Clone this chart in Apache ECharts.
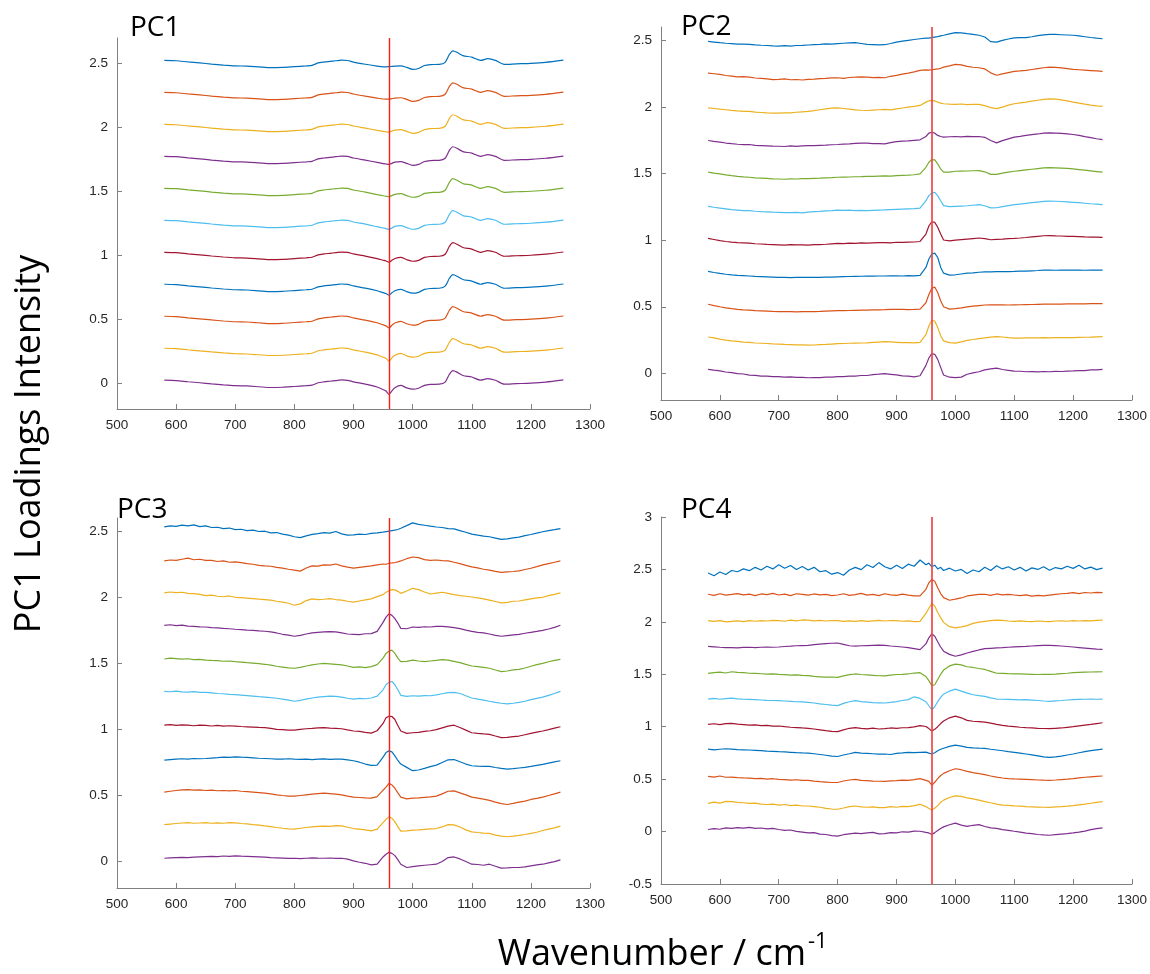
<!DOCTYPE html>
<html><head><meta charset="utf-8">
<script src="https://cdn.jsdelivr.net/npm/echarts@6/dist/echarts.min.js"></script>
<style>html,body{margin:0;padding:0;background:#fff}#c{width:1150px;height:974px}</style>
</head><body><div id="c"></div>
<script>
// wavenumbers (cm-1)
const WN1 = [580,600,620,640,660,680,700,720,740,760,780,800,820,830,840,850,860,870,880,890,900,920,940,950,955,960,965,970,980,990,1000,1010,1020,1030,1045,1055,1062,1068,1075,1085,1100,1115,1127,1140,1155,1175,1200,1225,1255];
const WN = [580,590,600,610,620,630,640,650,660,670,680,690,700,710,720,730,740,750,760,770,780,790,800,810,820,830,840,850,860,870,880,890,900,910,920,930,940,950,955,960,965,970,975,980,990,1000,1010,1020,1030,1040,1050,1060,1070,1080,1090,1100,1110,1120,1130,1140,1150,1160,1170,1180,1190,1200,1210,1220,1230,1240,1250];
const MARK_WN = 960;
const PANEL_NAMES = ['PC1','PC2','PC3','PC4'];
const Y_TICKS_123 = [0,0.5,1,1.5,2,2.5];
const Y_RANGES = [[-0.2,2.7],[-0.2,2.6],[-0.2,2.6],[-0.5,3]];

// ---- PC1 ----
const PC1_1 = [2.525,2.522,2.513,2.505,2.496,2.488,2.482,2.480,2.474,2.468,2.470,2.476,2.482,2.486,2.505,2.512,2.517,2.522,2.527,2.524,2.512,2.495,2.480,2.475,2.475,2.476,2.478,2.480,2.482,2.470,2.455,2.462,2.485,2.492,2.494,2.510,2.570,2.600,2.588,2.562,2.550,2.525,2.538,2.525,2.494,2.498,2.502,2.510,2.527];
const PC1_2 = [2.275,2.272,2.263,2.255,2.246,2.238,2.232,2.230,2.224,2.218,2.220,2.226,2.232,2.236,2.255,2.262,2.267,2.272,2.277,2.274,2.262,2.245,2.230,2.223,2.222,2.222,2.226,2.230,2.233,2.220,2.205,2.212,2.235,2.242,2.244,2.260,2.320,2.350,2.338,2.312,2.300,2.275,2.288,2.275,2.244,2.248,2.252,2.260,2.277];
const PC1_3 = [2.025,2.022,2.013,2.005,1.996,1.988,1.982,1.980,1.974,1.968,1.970,1.976,1.982,1.986,2.005,2.012,2.017,2.022,2.027,2.024,2.012,1.995,1.978,1.970,1.967,1.965,1.972,1.980,1.984,1.970,1.955,1.962,1.985,1.992,1.994,2.010,2.070,2.100,2.088,2.062,2.050,2.025,2.038,2.025,1.994,1.998,2.002,2.010,2.027];
const PC1_4 = [1.775,1.772,1.763,1.755,1.746,1.738,1.732,1.730,1.724,1.718,1.720,1.726,1.732,1.736,1.755,1.762,1.767,1.772,1.777,1.774,1.762,1.745,1.728,1.718,1.715,1.712,1.720,1.730,1.734,1.720,1.705,1.712,1.735,1.742,1.744,1.760,1.820,1.850,1.838,1.812,1.800,1.775,1.788,1.775,1.744,1.748,1.752,1.760,1.777];
const PC1_5 = [1.525,1.522,1.513,1.505,1.496,1.488,1.482,1.480,1.474,1.468,1.470,1.476,1.482,1.486,1.505,1.512,1.517,1.522,1.527,1.524,1.512,1.495,1.476,1.467,1.463,1.460,1.468,1.478,1.484,1.468,1.455,1.462,1.485,1.492,1.494,1.510,1.570,1.600,1.588,1.562,1.550,1.525,1.538,1.525,1.494,1.498,1.502,1.510,1.527];
const PC1_6 = [1.275,1.272,1.263,1.255,1.246,1.238,1.232,1.230,1.224,1.218,1.220,1.226,1.232,1.236,1.255,1.262,1.267,1.272,1.277,1.274,1.262,1.245,1.225,1.215,1.210,1.204,1.215,1.228,1.234,1.218,1.205,1.212,1.235,1.242,1.244,1.260,1.320,1.350,1.338,1.312,1.300,1.275,1.288,1.275,1.244,1.248,1.252,1.260,1.277];
const PC1_7 = [1.025,1.022,1.013,1.005,0.996,0.988,0.982,0.980,0.974,0.968,0.970,0.976,0.982,0.986,1.005,1.012,1.017,1.022,1.027,1.024,1.012,0.995,0.975,0.963,0.957,0.948,0.962,0.976,0.985,0.967,0.955,0.962,0.985,0.992,0.994,1.010,1.070,1.100,1.088,1.062,1.050,1.025,1.038,1.025,0.994,0.998,1.002,1.010,1.027];
const PC1_8 = [0.775,0.772,0.763,0.755,0.746,0.738,0.732,0.730,0.724,0.718,0.720,0.726,0.732,0.736,0.755,0.762,0.767,0.772,0.777,0.774,0.762,0.745,0.724,0.710,0.703,0.690,0.708,0.724,0.735,0.717,0.705,0.712,0.735,0.742,0.744,0.760,0.820,0.850,0.838,0.812,0.800,0.775,0.788,0.775,0.744,0.748,0.752,0.760,0.777];
const PC1_9 = [0.525,0.522,0.513,0.505,0.496,0.488,0.482,0.480,0.474,0.468,0.470,0.476,0.482,0.486,0.505,0.512,0.517,0.522,0.527,0.524,0.512,0.495,0.474,0.458,0.450,0.434,0.454,0.472,0.485,0.466,0.455,0.462,0.485,0.492,0.494,0.510,0.570,0.600,0.588,0.562,0.550,0.525,0.538,0.525,0.494,0.498,0.502,0.510,0.527];
const PC1_10 = [0.275,0.272,0.263,0.255,0.246,0.238,0.232,0.230,0.224,0.218,0.220,0.226,0.232,0.236,0.255,0.262,0.267,0.272,0.277,0.274,0.262,0.245,0.223,0.205,0.195,0.175,0.200,0.220,0.235,0.215,0.205,0.212,0.235,0.242,0.244,0.260,0.320,0.350,0.338,0.312,0.300,0.275,0.288,0.275,0.244,0.248,0.252,0.260,0.277];
const PC1_11 = [0.025,0.022,0.013,0.005,-0.004,-0.012,-0.018,-0.020,-0.026,-0.032,-0.030,-0.024,-0.018,-0.014,0.005,0.012,0.017,0.022,0.027,0.024,0.012,-0.005,-0.028,-0.048,-0.060,-0.085,-0.058,-0.034,-0.016,-0.035,-0.045,-0.038,-0.015,-0.008,-0.006,0.010,0.070,0.100,0.088,0.062,0.050,0.025,0.038,0.025,-0.006,-0.002,0.002,0.010,0.027];

// ---- PC2 ----
const PC2_1 = [2.492,2.487,2.482,2.478,2.475,2.471,2.472,2.470,2.466,2.463,2.461,2.458,2.457,2.460,2.456,2.461,2.462,2.465,2.468,2.470,2.473,2.471,2.475,2.478,2.481,2.482,2.476,2.470,2.468,2.466,2.467,2.476,2.487,2.494,2.500,2.506,2.512,2.516,2.517,2.520,2.524,2.528,2.533,2.538,2.549,2.558,2.556,2.550,2.545,2.538,2.525,2.490,2.486,2.500,2.510,2.518,2.520,2.520,2.527,2.535,2.541,2.545,2.544,2.542,2.540,2.538,2.533,2.527,2.521,2.516,2.512];
const PC2_2 = [2.254,2.249,2.244,2.236,2.231,2.226,2.228,2.224,2.217,2.214,2.211,2.205,2.207,2.210,2.204,2.206,2.202,2.207,2.209,2.213,2.215,2.218,2.219,2.215,2.221,2.223,2.226,2.224,2.220,2.222,2.219,2.230,2.237,2.246,2.254,2.263,2.274,2.278,2.276,2.279,2.282,2.285,2.290,2.299,2.308,2.319,2.316,2.304,2.298,2.294,2.285,2.256,2.238,2.248,2.258,2.267,2.270,2.274,2.281,2.288,2.294,2.299,2.297,2.293,2.288,2.282,2.279,2.276,2.273,2.270,2.267];
const PC2_3 = [1.993,1.988,1.983,1.979,1.974,1.970,1.967,1.966,1.961,1.958,1.955,1.954,1.953,1.956,1.955,1.960,1.963,1.966,1.972,1.979,1.985,1.991,1.993,1.988,1.983,1.978,1.975,1.973,1.976,1.979,1.981,1.978,1.986,1.992,1.998,2.004,2.011,2.036,2.046,2.049,2.045,2.036,2.028,2.024,2.021,2.019,2.022,2.018,2.020,2.019,2.010,1.995,1.987,1.999,2.013,2.024,2.030,2.036,2.043,2.050,2.057,2.061,2.058,2.053,2.045,2.036,2.029,2.021,2.014,2.008,2.004];
const PC2_4 = [1.748,1.741,1.736,1.729,1.724,1.720,1.717,1.718,1.712,1.710,1.708,1.706,1.705,1.703,1.707,1.704,1.708,1.709,1.710,1.712,1.713,1.716,1.718,1.721,1.723,1.726,1.729,1.728,1.725,1.724,1.723,1.732,1.740,1.744,1.745,1.749,1.753,1.778,1.803,1.810,1.803,1.786,1.778,1.773,1.776,1.778,1.775,1.779,1.777,1.778,1.772,1.748,1.730,1.747,1.760,1.773,1.779,1.786,1.792,1.797,1.803,1.805,1.804,1.801,1.797,1.793,1.786,1.777,1.769,1.761,1.755];
const PC2_5 = [1.510,1.503,1.497,1.490,1.484,1.479,1.475,1.472,1.468,1.466,1.463,1.460,1.459,1.457,1.460,1.459,1.462,1.462,1.464,1.465,1.467,1.469,1.472,1.473,1.474,1.476,1.477,1.479,1.479,1.481,1.482,1.481,1.484,1.486,1.488,1.491,1.497,1.547,1.585,1.605,1.602,1.572,1.535,1.511,1.510,1.517,1.518,1.519,1.521,1.522,1.513,1.494,1.494,1.503,1.510,1.517,1.522,1.527,1.532,1.537,1.542,1.544,1.543,1.541,1.538,1.535,1.530,1.525,1.520,1.515,1.510];
const PC2_6 = [1.254,1.247,1.241,1.235,1.229,1.226,1.222,1.221,1.217,1.214,1.212,1.210,1.209,1.207,1.206,1.208,1.205,1.210,1.214,1.216,1.219,1.222,1.226,1.224,1.225,1.222,1.223,1.221,1.224,1.226,1.227,1.229,1.231,1.233,1.235,1.237,1.241,1.296,1.334,1.354,1.359,1.334,1.296,1.259,1.251,1.254,1.256,1.258,1.262,1.266,1.258,1.242,1.243,1.252,1.259,1.266,1.271,1.276,1.281,1.286,1.291,1.293,1.292,1.290,1.287,1.284,1.281,1.277,1.273,1.270,1.266];
const PC2_7 = [1.013,1.005,0.996,0.990,0.985,0.981,0.979,0.977,0.973,0.971,0.968,0.967,0.965,0.963,0.966,0.964,0.965,0.962,0.966,0.967,0.969,0.972,0.975,0.974,0.977,0.976,0.979,0.977,0.980,0.981,0.982,0.980,0.984,0.983,0.985,0.986,0.990,1.046,1.106,1.138,1.133,1.097,1.046,1.001,0.994,1.000,1.004,1.008,1.012,1.016,1.012,1.003,1.006,1.008,1.011,1.013,1.016,1.020,1.025,1.029,1.033,1.034,1.032,1.031,1.029,1.028,1.026,1.024,1.023,1.022,1.021];
const PC2_8 = [0.765,0.757,0.750,0.744,0.739,0.735,0.733,0.731,0.728,0.726,0.724,0.722,0.720,0.721,0.719,0.720,0.720,0.721,0.720,0.721,0.722,0.723,0.725,0.726,0.727,0.728,0.729,0.730,0.730,0.731,0.731,0.732,0.732,0.731,0.733,0.732,0.735,0.795,0.858,0.895,0.903,0.870,0.797,0.752,0.737,0.740,0.746,0.752,0.755,0.759,0.762,0.762,0.763,0.764,0.764,0.765,0.767,0.768,0.770,0.772,0.775,0.775,0.774,0.775,0.775,0.776,0.775,0.774,0.775,0.775,0.775];
const PC2_9 = [0.519,0.509,0.500,0.492,0.486,0.481,0.477,0.474,0.471,0.469,0.467,0.465,0.464,0.463,0.463,0.462,0.464,0.463,0.464,0.465,0.467,0.469,0.471,0.471,0.472,0.473,0.474,0.474,0.476,0.477,0.478,0.480,0.481,0.480,0.479,0.480,0.482,0.530,0.592,0.638,0.648,0.607,0.545,0.500,0.482,0.486,0.492,0.499,0.504,0.509,0.513,0.514,0.515,0.514,0.513,0.514,0.515,0.516,0.517,0.518,0.519,0.519,0.520,0.520,0.521,0.521,0.522,0.522,0.523,0.523,0.524];
const PC2_10 = [0.273,0.266,0.257,0.250,0.244,0.240,0.235,0.232,0.228,0.226,0.224,0.221,0.219,0.217,0.216,0.214,0.214,0.212,0.213,0.215,0.217,0.220,0.223,0.224,0.226,0.227,0.228,0.229,0.232,0.235,0.238,0.236,0.233,0.230,0.230,0.229,0.232,0.290,0.355,0.398,0.393,0.345,0.282,0.244,0.231,0.227,0.236,0.248,0.254,0.261,0.266,0.272,0.276,0.273,0.268,0.264,0.265,0.266,0.267,0.266,0.268,0.267,0.268,0.269,0.268,0.268,0.270,0.271,0.272,0.274,0.276];
const PC2_11 = [0.030,0.024,0.019,0.010,0.006,-0.002,-0.005,-0.013,-0.015,-0.021,-0.021,-0.025,-0.024,-0.028,-0.027,-0.030,-0.030,-0.033,-0.032,-0.032,-0.029,-0.028,-0.024,-0.025,-0.021,-0.021,-0.016,-0.016,-0.009,-0.006,-0.002,-0.007,-0.012,-0.019,-0.021,-0.026,-0.018,0.060,0.115,0.148,0.143,0.105,0.045,-0.012,-0.029,-0.032,-0.028,-0.007,0.004,0.012,0.026,0.034,0.039,0.029,0.023,0.017,0.016,0.012,0.013,0.011,0.014,0.012,0.015,0.014,0.017,0.018,0.021,0.021,0.026,0.026,0.030];

// ---- PC3 ----
const PC3_1 = [2.533,2.540,2.537,2.546,2.541,2.548,2.535,2.540,2.528,2.530,2.520,2.524,2.512,2.515,2.505,2.508,2.498,2.500,2.488,2.490,2.478,2.470,2.458,2.452,2.465,2.476,2.482,2.490,2.485,2.498,2.480,2.470,2.472,2.478,2.475,2.484,2.488,2.493,2.497,2.500,2.505,2.508,2.513,2.522,2.542,2.563,2.552,2.545,2.538,2.532,2.528,2.520,2.518,2.505,2.492,2.478,2.470,2.463,2.458,2.448,2.438,2.442,2.450,2.455,2.466,2.475,2.485,2.496,2.505,2.512,2.520];
const PC3_2 = [2.275,2.282,2.280,2.288,2.296,2.284,2.288,2.280,2.279,2.271,2.276,2.265,2.268,2.262,2.255,2.250,2.242,2.238,2.235,2.226,2.220,2.212,2.205,2.198,2.222,2.238,2.236,2.245,2.243,2.252,2.238,2.228,2.220,2.226,2.232,2.238,2.245,2.252,2.250,2.258,2.260,2.263,2.268,2.275,2.292,2.305,2.300,2.285,2.280,2.282,2.278,2.275,2.265,2.255,2.242,2.230,2.222,2.212,2.205,2.196,2.188,2.192,2.195,2.200,2.210,2.220,2.232,2.245,2.255,2.265,2.275];
const PC3_3 = [2.033,2.040,2.035,2.038,2.030,2.028,2.022,2.013,2.016,2.008,2.004,2.010,2.000,1.998,1.994,1.990,1.986,1.983,1.978,1.970,1.963,1.955,1.940,1.950,1.975,1.988,1.982,1.985,1.990,1.983,1.978,1.970,1.963,1.972,1.980,1.988,2.005,2.020,2.038,2.050,2.058,2.056,2.045,2.030,2.048,2.068,2.058,2.040,2.025,2.032,2.038,2.030,2.020,2.013,2.008,2.002,1.995,1.988,1.978,1.968,1.958,1.962,1.970,1.972,1.980,1.988,1.995,2.000,2.012,2.022,2.033];
const PC3_4 = [1.788,1.792,1.785,1.790,1.782,1.780,1.776,1.775,1.770,1.768,1.764,1.762,1.758,1.756,1.752,1.750,1.746,1.743,1.738,1.730,1.720,1.714,1.705,1.712,1.722,1.730,1.735,1.738,1.740,1.738,1.730,1.722,1.720,1.718,1.724,1.725,1.742,1.810,1.850,1.875,1.863,1.838,1.805,1.765,1.762,1.775,1.773,1.777,1.775,1.780,1.780,1.776,1.770,1.763,1.752,1.742,1.735,1.730,1.722,1.712,1.705,1.710,1.715,1.720,1.728,1.735,1.742,1.750,1.760,1.772,1.788];
const PC3_5 = [1.533,1.540,1.536,1.532,1.535,1.528,1.530,1.525,1.522,1.520,1.516,1.518,1.513,1.510,1.505,1.502,1.498,1.493,1.486,1.478,1.472,1.466,1.463,1.470,1.480,1.488,1.495,1.500,1.496,1.492,1.488,1.480,1.470,1.474,1.468,1.475,1.490,1.540,1.575,1.592,1.600,1.575,1.540,1.513,1.515,1.525,1.518,1.513,1.518,1.522,1.528,1.525,1.515,1.505,1.492,1.480,1.475,1.470,1.463,1.450,1.438,1.442,1.450,1.455,1.465,1.478,1.490,1.500,1.512,1.522,1.530];
const PC3_6 = [1.288,1.285,1.290,1.284,1.282,1.286,1.280,1.280,1.276,1.272,1.270,1.266,1.263,1.260,1.256,1.252,1.248,1.245,1.240,1.236,1.230,1.222,1.213,1.220,1.230,1.238,1.244,1.248,1.252,1.250,1.244,1.236,1.230,1.235,1.232,1.238,1.252,1.300,1.338,1.356,1.363,1.338,1.300,1.258,1.250,1.255,1.252,1.256,1.255,1.262,1.270,1.278,1.280,1.272,1.255,1.238,1.230,1.222,1.213,1.205,1.198,1.193,1.198,1.205,1.213,1.225,1.235,1.245,1.258,1.272,1.288];
const PC3_7 = [1.033,1.036,1.030,1.034,1.032,1.028,1.033,1.030,1.026,1.030,1.025,1.028,1.025,1.022,1.020,1.018,1.015,1.013,1.008,1.000,0.998,0.995,0.995,1.000,1.005,1.008,1.012,1.013,1.010,1.008,1.005,0.996,0.988,0.985,0.978,0.972,0.990,1.045,1.088,1.100,1.098,1.075,1.030,0.988,0.970,0.975,0.978,0.985,0.990,0.998,1.012,1.025,1.032,1.015,0.995,0.975,0.970,0.966,0.963,0.950,0.938,0.940,0.945,0.950,0.960,0.970,0.980,0.988,0.998,1.010,1.020];
const PC3_8 = [0.768,0.772,0.775,0.778,0.776,0.780,0.778,0.780,0.783,0.786,0.790,0.788,0.793,0.790,0.788,0.785,0.782,0.780,0.778,0.776,0.775,0.778,0.775,0.773,0.776,0.772,0.775,0.777,0.774,0.776,0.775,0.770,0.763,0.752,0.738,0.728,0.730,0.790,0.825,0.838,0.830,0.800,0.765,0.738,0.713,0.688,0.693,0.705,0.718,0.730,0.750,0.770,0.772,0.755,0.738,0.725,0.722,0.720,0.720,0.712,0.705,0.700,0.703,0.708,0.713,0.720,0.728,0.735,0.745,0.755,0.763];
const PC3_9 = [0.525,0.532,0.538,0.542,0.545,0.540,0.542,0.538,0.540,0.536,0.538,0.535,0.538,0.532,0.530,0.526,0.522,0.518,0.512,0.505,0.500,0.496,0.495,0.500,0.505,0.510,0.514,0.518,0.514,0.510,0.505,0.495,0.488,0.485,0.482,0.480,0.492,0.540,0.563,0.592,0.580,0.555,0.520,0.488,0.475,0.480,0.482,0.486,0.490,0.495,0.512,0.532,0.535,0.520,0.505,0.488,0.480,0.472,0.463,0.450,0.438,0.432,0.440,0.450,0.458,0.470,0.478,0.488,0.500,0.512,0.525];
const PC3_10 = [0.280,0.284,0.288,0.292,0.295,0.290,0.292,0.294,0.290,0.293,0.290,0.294,0.293,0.288,0.285,0.280,0.276,0.270,0.265,0.258,0.252,0.248,0.245,0.252,0.258,0.262,0.266,0.268,0.267,0.272,0.270,0.260,0.250,0.245,0.240,0.232,0.245,0.295,0.320,0.338,0.328,0.300,0.265,0.230,0.232,0.238,0.240,0.244,0.247,0.250,0.262,0.280,0.278,0.262,0.240,0.225,0.220,0.216,0.213,0.200,0.192,0.188,0.192,0.198,0.205,0.213,0.222,0.235,0.245,0.255,0.268];
const PC3_11 = [0.025,0.028,0.030,0.032,0.030,0.034,0.036,0.038,0.040,0.038,0.042,0.040,0.043,0.041,0.040,0.038,0.036,0.033,0.030,0.028,0.026,0.024,0.025,0.022,0.025,0.028,0.026,0.025,0.027,0.024,0.025,0.018,0.005,-0.005,-0.013,-0.025,-0.020,0.035,0.055,0.070,0.062,0.045,0.015,-0.020,-0.045,-0.038,-0.032,-0.028,-0.024,-0.020,0.000,0.030,0.035,0.020,0.000,-0.020,-0.022,-0.028,-0.020,-0.035,-0.050,-0.048,-0.045,-0.045,-0.040,-0.032,-0.025,-0.020,-0.010,0.000,0.013];

// ---- PC4 ----
const PC4_1 = [2.466,2.440,2.475,2.452,2.490,2.478,2.505,2.488,2.520,2.495,2.530,2.505,2.545,2.512,2.538,2.500,2.528,2.495,2.520,2.478,2.488,2.455,2.470,2.445,2.495,2.520,2.498,2.545,2.518,2.565,2.525,2.505,2.540,2.508,2.550,2.530,2.590,2.545,2.560,2.525,2.540,2.505,2.520,2.490,2.512,2.485,2.500,2.462,2.495,2.478,2.520,2.490,2.535,2.505,2.525,2.495,2.520,2.485,2.515,2.500,2.525,2.492,2.518,2.505,2.530,2.510,2.540,2.505,2.522,2.498,2.513];
const PC4_2 = [2.263,2.252,2.268,2.255,2.262,2.270,2.258,2.265,2.250,2.266,2.260,2.272,2.256,2.264,2.250,2.268,2.262,2.255,2.266,2.258,2.262,2.250,2.256,2.268,2.252,2.260,2.272,2.255,2.262,2.250,2.268,2.258,2.252,2.265,2.255,2.248,2.247,2.310,2.372,2.404,2.388,2.325,2.270,2.231,2.206,2.216,2.228,2.247,2.255,2.262,2.263,2.252,2.266,2.258,2.262,2.256,2.250,2.258,2.245,2.252,2.247,2.255,2.262,2.268,2.272,2.278,2.270,2.280,2.275,2.282,2.278];
const PC4_3 = [2.011,2.005,2.012,2.000,2.005,2.010,2.002,2.011,2.006,2.012,2.008,2.015,2.011,2.006,2.016,2.010,2.018,2.017,2.010,2.015,2.008,2.012,2.011,2.004,2.010,2.005,2.012,2.005,2.010,2.014,2.008,2.013,2.011,2.006,2.010,2.002,2.005,2.080,2.130,2.174,2.152,2.089,2.040,1.995,1.954,1.942,1.952,1.964,1.985,1.998,2.005,2.012,2.017,2.015,2.008,2.005,2.010,2.005,2.002,2.008,2.005,2.003,2.008,2.010,2.006,2.011,2.008,2.012,2.010,2.015,2.017];
const PC4_4 = [1.766,1.762,1.758,1.755,1.754,1.752,1.756,1.758,1.755,1.758,1.760,1.758,1.760,1.765,1.768,1.772,1.774,1.776,1.782,1.788,1.792,1.796,1.798,1.785,1.772,1.769,1.772,1.774,1.776,1.778,1.776,1.770,1.765,1.760,1.755,1.745,1.735,1.790,1.848,1.885,1.862,1.810,1.760,1.720,1.690,1.672,1.685,1.703,1.718,1.732,1.744,1.748,1.752,1.754,1.758,1.762,1.764,1.766,1.770,1.774,1.776,1.776,1.774,1.770,1.765,1.760,1.755,1.750,1.745,1.740,1.738];
const PC4_5 = [1.509,1.515,1.520,1.512,1.524,1.518,1.515,1.510,1.508,1.505,1.502,1.504,1.499,1.496,1.492,1.494,1.490,1.487,1.480,1.476,1.472,1.474,1.471,1.485,1.496,1.503,1.498,1.494,1.490,1.486,1.484,1.492,1.498,1.500,1.503,1.512,1.515,1.478,1.440,1.392,1.400,1.450,1.500,1.540,1.580,1.597,1.590,1.572,1.565,1.555,1.546,1.528,1.510,1.509,1.506,1.504,1.503,1.502,1.500,1.498,1.499,1.499,1.502,1.506,1.510,1.515,1.518,1.520,1.522,1.523,1.524];
const PC4_6 = [1.264,1.270,1.262,1.268,1.273,1.266,1.262,1.260,1.258,1.255,1.252,1.250,1.248,1.245,1.242,1.238,1.236,1.233,1.226,1.218,1.212,1.205,1.201,1.222,1.238,1.248,1.240,1.235,1.230,1.228,1.226,1.232,1.240,1.250,1.258,1.285,1.270,1.238,1.200,1.162,1.190,1.240,1.280,1.310,1.340,1.358,1.340,1.320,1.305,1.296,1.289,1.275,1.264,1.262,1.260,1.258,1.256,1.258,1.254,1.250,1.245,1.242,1.246,1.250,1.255,1.258,1.260,1.262,1.264,1.262,1.264];
const PC4_7 = [1.022,1.028,1.020,1.030,1.032,1.025,1.020,1.015,1.018,1.010,1.012,1.006,1.007,1.000,0.995,0.992,0.988,0.985,0.978,0.970,0.962,0.955,0.953,0.970,0.985,0.991,0.985,0.980,0.986,0.978,0.982,0.988,0.985,0.990,0.991,0.998,1.010,1.002,0.982,0.960,0.975,1.000,1.030,1.055,1.085,1.101,1.085,1.060,1.052,1.048,1.044,1.035,1.022,1.013,1.005,1.000,0.995,0.991,0.988,0.985,0.983,0.982,0.985,0.988,0.994,1.000,1.008,1.015,1.022,1.030,1.038];
const PC4_8 = [0.787,0.780,0.785,0.790,0.787,0.782,0.780,0.778,0.775,0.772,0.768,0.765,0.762,0.760,0.756,0.752,0.750,0.749,0.742,0.735,0.728,0.720,0.716,0.730,0.742,0.756,0.748,0.745,0.742,0.738,0.740,0.735,0.745,0.750,0.756,0.752,0.756,0.758,0.748,0.740,0.752,0.771,0.785,0.795,0.812,0.825,0.815,0.803,0.798,0.795,0.793,0.785,0.778,0.771,0.762,0.755,0.748,0.740,0.732,0.722,0.712,0.708,0.712,0.720,0.730,0.740,0.752,0.762,0.772,0.780,0.787];
const PC4_9 = [0.526,0.520,0.530,0.518,0.520,0.515,0.512,0.510,0.505,0.508,0.500,0.504,0.498,0.495,0.490,0.494,0.488,0.489,0.482,0.476,0.472,0.468,0.468,0.482,0.492,0.498,0.488,0.485,0.482,0.480,0.479,0.484,0.486,0.490,0.489,0.496,0.505,0.488,0.479,0.442,0.470,0.505,0.535,0.555,0.580,0.599,0.590,0.574,0.562,0.552,0.543,0.530,0.520,0.511,0.505,0.502,0.500,0.498,0.495,0.492,0.490,0.489,0.492,0.496,0.500,0.505,0.512,0.518,0.522,0.526,0.530];
const PC4_10 = [0.269,0.280,0.272,0.288,0.285,0.278,0.275,0.268,0.272,0.262,0.258,0.262,0.253,0.258,0.248,0.252,0.244,0.244,0.238,0.232,0.222,0.215,0.213,0.225,0.238,0.244,0.236,0.232,0.236,0.228,0.229,0.238,0.232,0.240,0.238,0.248,0.260,0.238,0.220,0.206,0.222,0.247,0.280,0.300,0.325,0.341,0.335,0.322,0.312,0.300,0.285,0.275,0.262,0.253,0.250,0.245,0.242,0.238,0.236,0.234,0.232,0.231,0.235,0.238,0.242,0.247,0.255,0.262,0.270,0.278,0.285];
const PC4_11 = [0.020,0.028,0.022,0.035,0.030,0.038,0.032,0.040,0.030,0.034,0.025,0.030,0.020,0.012,0.015,0.002,-0.005,-0.013,-0.010,-0.025,-0.028,-0.038,-0.044,-0.030,-0.022,-0.015,-0.020,-0.013,-0.008,-0.022,-0.019,-0.010,-0.013,-0.002,-0.006,0.005,0.003,-0.008,-0.013,-0.028,-0.010,0.010,0.030,0.045,0.065,0.080,0.062,0.050,0.060,0.066,0.048,0.035,0.030,0.018,0.012,0.003,-0.005,-0.015,-0.020,-0.028,-0.032,-0.035,-0.030,-0.025,-0.020,-0.013,-0.005,0.005,0.018,0.028,0.035];

const COLORS = ['#0072BD','#D95319','#EDB120','#7E2F8E','#77AC30','#4DBEEE','#A2142F','#0072BD','#D95319','#EDB120','#7E2F8E'];
const PANELS = [
  {xs: WN1, lines: [PC1_1,PC1_2,PC1_3,PC1_4,PC1_5,PC1_6,PC1_7,PC1_8,PC1_9,PC1_10,PC1_11]},
  {xs: WN,  lines: [PC2_1,PC2_2,PC2_3,PC2_4,PC2_5,PC2_6,PC2_7,PC2_8,PC2_9,PC2_10,PC2_11]},
  {xs: WN,  lines: [PC3_1,PC3_2,PC3_3,PC3_4,PC3_5,PC3_6,PC3_7,PC3_8,PC3_9,PC3_10,PC3_11]},
  {xs: WN,  lines: [PC4_1,PC4_2,PC4_3,PC4_4,PC4_5,PC4_6,PC4_7,PC4_8,PC4_9,PC4_10,PC4_11]}
];
PANELS.forEach((p,pi)=>p.lines.forEach((l,li)=>{ if(l.length!==p.xs.length) throw new Error('len mismatch panel '+(pi+1)+' line '+(li+1)+': '+l.length+' vs '+p.xs.length); }));

const GRIDS = [
  {left:117, top:38,  width:473, height:371},
  {left:661, top:27,  width:471, height:373},
  {left:117, top:518, width:473, height:370},
  {left:661, top:517, width:471, height:367}
];
const AX = '#808080';
const LABEL = {color:'#262626', fontFamily:'"Liberation Sans", Arial, sans-serif', fontSize:13.5, formatter: v => String(v)};

const xAxes = GRIDS.map((g,i)=>({
  type:'value', gridIndex:i, min:500, max:1300, interval:100,
  axisLine:{onZero:false, lineStyle:{color:AX, width:1}},
  axisTick:{inside:true, length:5, lineStyle:{color:AX}},
  axisLabel:Object.assign({margin:9}, LABEL),
  splitLine:{show:false}
}));
const yAxes = GRIDS.map((g,i)=>{
  const a = {
    type:'value', gridIndex:i, min:Y_RANGES[i][0], max:Y_RANGES[i][1],
    axisLine:{show:true, onZero:false, lineStyle:{color:AX, width:1}},
    axisTick:{show:true, inside:true, length:5, lineStyle:{color:AX}},
    axisLabel:Object.assign({margin:9}, LABEL),
    splitLine:{show:false}
  };
  if (i===3) { a.interval = 0.5; }
  else { a.axisTick.customValues = Y_TICKS_123; a.axisLabel.customValues = Y_TICKS_123; }
  return a;
});

const series = [];
PANELS.forEach((p,pi)=>{
  p.lines.forEach((ys,li)=>{
    const s = {
      type:'line', xAxisIndex:pi, yAxisIndex:pi, showSymbol:false, symbol:'none',
      data: p.xs.map((x,k)=>[x, ys[k]]),
      lineStyle:{color:COLORS[li], width: pi===0 ? 1.2 : 1.2},
      itemStyle:{color:COLORS[li]},
      smooth: pi===0 ? 0.25 : false,
      animation:false, silent:true, z:2
    };
    if (li===0) {
      const soft = (pi===1 || pi===3);
      s.markLine = {
        silent:true, symbol:['none','none'], animation:false,
        label:{show:false},
        lineStyle:{color: soft ? 'rgba(240,70,70,0.85)' : '#ff1a1a', width: soft ? 2 : 1.4, type:'solid'},
        data:[{xAxis: MARK_WN}]
      };
    }
    series.push(s);
  });
});

const TF = '"Open Sans", "Noto Sans", sans-serif';
const graphic = [
  {type:'text', x:130, y:28, style:{text:PANEL_NAMES[0], font:'28px '+TF, fill:'#000', align:'left', verticalAlign:'middle'}},
  {type:'text', x:681, y:27, style:{text:PANEL_NAMES[1], font:'28px '+TF, fill:'#000', align:'left', verticalAlign:'middle'}},
  {type:'text', x:117, y:510, style:{text:PANEL_NAMES[2], font:'28px '+TF, fill:'#000', align:'left', verticalAlign:'middle'}},
  {type:'text', x:681, y:510, style:{text:PANEL_NAMES[3], font:'28px '+TF, fill:'#000', align:'left', verticalAlign:'middle'}},
  {type:'text', x:30, y:444, rotation:Math.PI/2, style:{text:'PC1 Loadings Intensity', font:'36px '+TF, fill:'#000', align:'center', verticalAlign:'middle'}},
  {type:'text', x:806, y:955, style:{text:'Wavenumber / cm', font:'36px '+TF, fill:'#000', align:'right', verticalAlign:'middle'}},
  {type:'text', x:808, y:942, style:{text:'-1', font:'22px '+TF, fill:'#000', align:'left', verticalAlign:'middle'}}
];

const chart = echarts.init(document.getElementById('c'), null, {renderer:'canvas'});
chart.setOption({
  backgroundColor:'#fff',
  animation:false,
  grid: GRIDS.map(g=>Object.assign({containLabel:false}, g)),
  xAxis:xAxes, yAxis:yAxes, series, graphic
});
</script></body></html>
